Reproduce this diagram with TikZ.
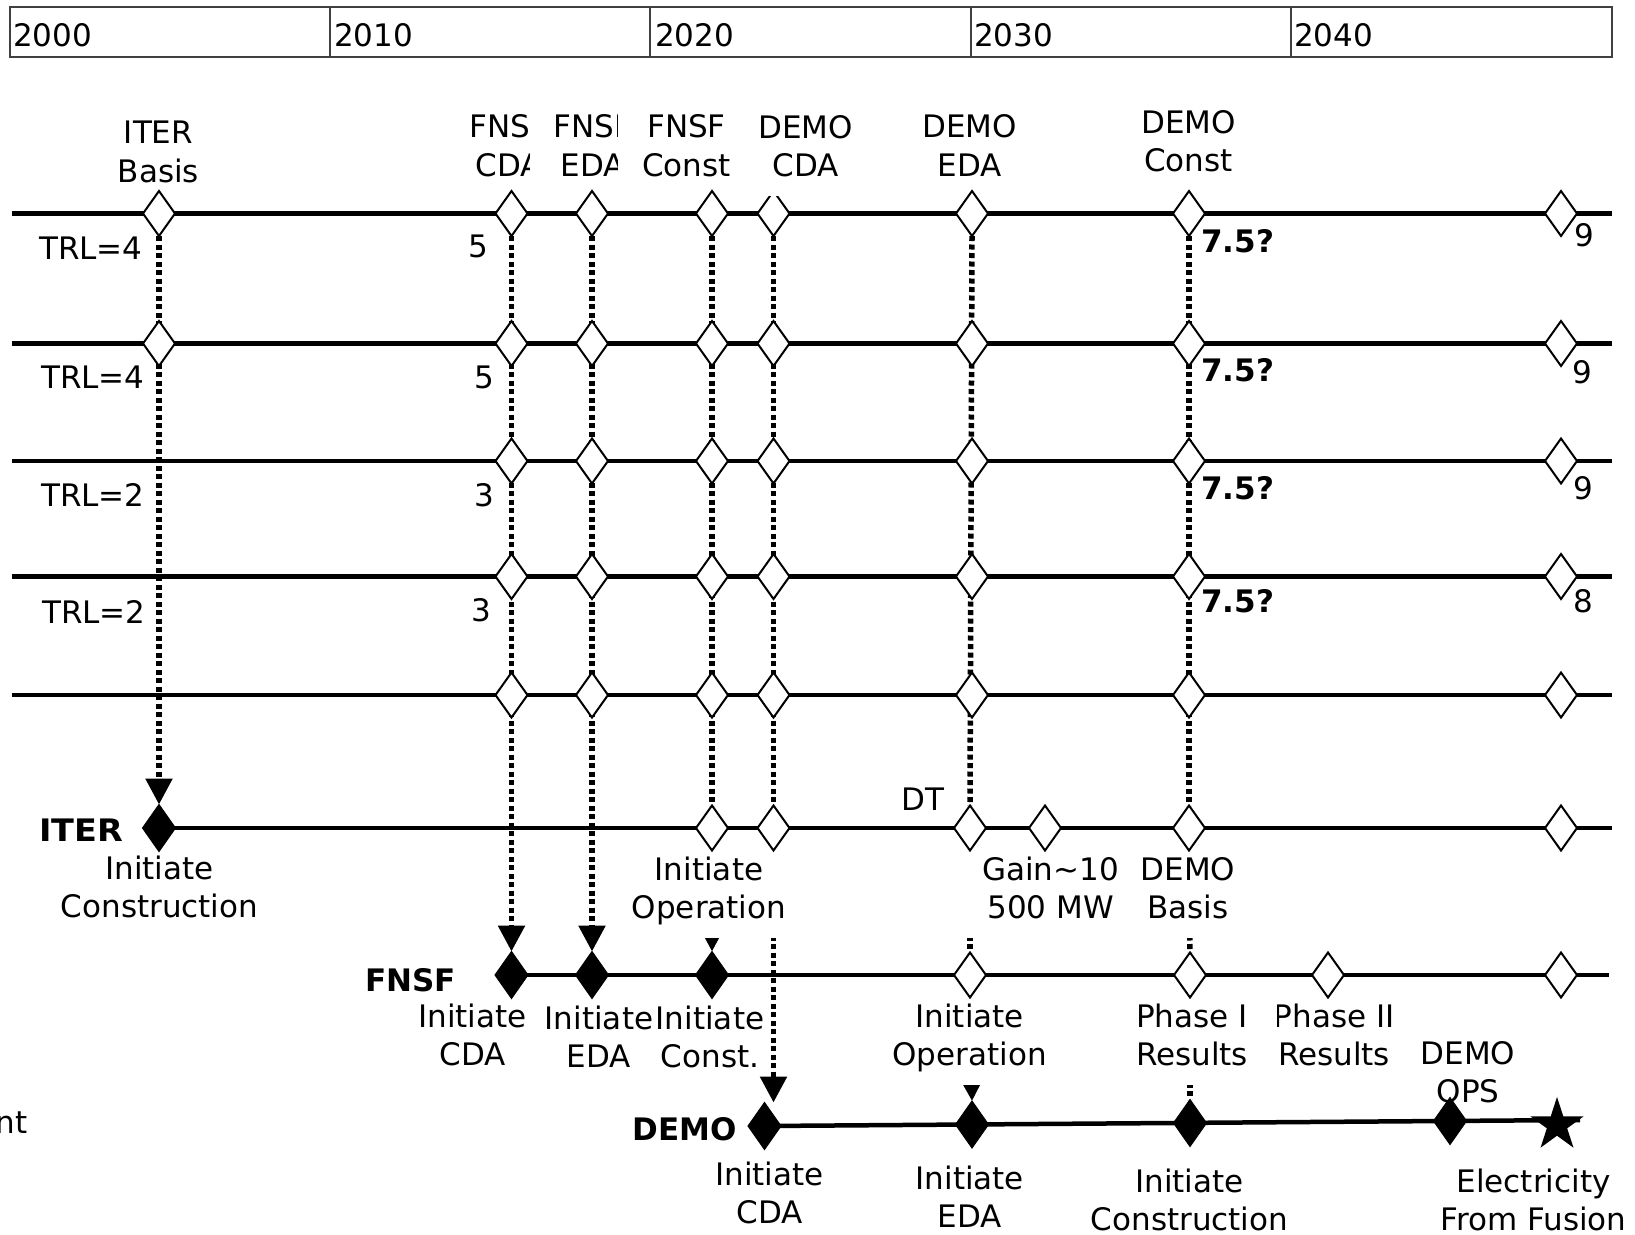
\documentclass[tikz,border=0pt]{standalone}
\usepackage{fontspec}
\setmainfont{DejaVu Sans}
\usetikzlibrary{shapes.geometric,arrows.meta}
\pgfdeclarelayer{bg}
\pgfsetlayers{bg,main}
\newcommand\myfs{\fontsize{31pt}{38.5pt}\selectfont}
\newcommand\ls{\strut}
\begin{document}
\begin{tikzpicture}[x=1pt,y=-1pt,
  every node/.style={font=\myfs},
  odia/.style={diamond,draw=black,line width=2pt,fill=white,minimum width=32pt,minimum height=45pt,inner sep=0pt,outer sep=0pt},
  fdia/.style={diamond,draw=black,line width=1pt,fill=black,minimum width=33pt,minimum height=47pt,inner sep=0pt,outer sep=0pt},
  hline/.style={line width=4.5pt,black},
  dotl/.style={line width=5.5pt,dash pattern=on 5pt off 3.5pt},
  arrw/.style={-{Triangle[width=26pt,length=26pt]}},
  lab/.style={align=center,anchor=north,inner xsep=24pt,inner ysep=7.5pt},
  labw/.style={lab,fill=white},
  txt/.style={anchor=base,inner sep=0pt},
  btxt/.style={txt,font=\myfs\bfseries},
  boxl/.style={line width=2pt,draw=black!75}
]
\useasboundingbox (0,0) rectangle (1635,1234);
% year bar
\draw[boxl] (9.5,6.5) rectangle (1612,56.5);
\foreach \x in {329.5,650,970.5,1291}{\draw[boxl] (\x,6.5) -- (\x,56.5);}
\node[txt,anchor=base west] (y2000) at (13,46.5) {2000};
\node[txt,anchor=base west] (y2010) at (334,46.5) {2010};
\node[txt,anchor=base west] (y2020) at (655,46.5) {2020};
\node[txt,anchor=base west] (y2030) at (974,46.5) {2030};
\node[txt,anchor=base west] (y2040) at (1294,46.5) {2040};

% top labels (unfilled)
\node[lab] (tITER) at (158.5,109.2) {ITER\ls\\Basis\ls};
\node[lab] (tDEDA) at (969.7,103) {DEMO\ls\\EDA\ls};
\node[lab] (tDCon) at (1188.5,98.8) {DEMO\ls\\Const\ls};

% ITER lower labels
\node[lab] (iCon) at (159.5,844.5) {Initiate\ls\\Construction\ls};
\node[labw] (iOp) at (709,845.5) {Initiate\ls\\Operation\ls};
\node[labw,inner xsep=16pt] (iGain) at (1050.5,845.5) {Gain\textasciitilde10\ls\\500 MW\ls};
\node[labw,inner xsep=16pt] (iBas) at (1188,845.5) {DEMO\ls\\Basis\ls};

% FNSF lower labels
\node[lab] (fCDA) at (472.6,992.5) {Initiate\ls\\CDA\ls};
\node[lab] (fEDA) at (599,994.5) {Initiate\ls\\EDA\ls};
\node[lab] (fCon) at (710,994.5) {Initiate\ls\\Const.\ls};
\node[labw] (fOp) at (969.7,992.5) {Initiate\ls\\Operation\ls};
\node[lab] (fPh2) at (1334,992.5) {Phase II\ls\\Results\ls};
\node[labw,inner xsep=29pt] (fPh1) at (1192,992.5) {Phase I\ls\\Results\ls};
\node[lab] (dOPS) at (1468,1029.5) {DEMO\ls\\OPS\ls};

% DEMO lower labels
\node[lab] (dCDA) at (769.6,1150.5) {Initiate\ls\\CDA\ls};
\node[lab] (dEDA) at (969.8,1154.5) {Initiate\ls\\EDA\ls};
\node[lab] (dCon) at (1189.5,1157.5) {Initiate\ls\\Construction\ls};
\node[lab] (dEl) at (1533.5,1157.5) {Electricity\ls\\From Fusion\ls};

% FNSF top labels (overlapping boxes)
\node[labw] (tFCDA) at (508.5,103) {FNSF\ls\\CDA\ls};
\node[labw] (tFEDA) at (593,103) {FNSF\ls\\EDA\ls};
\node[labw] (tFCon) at (686.5,103) {FNSF\ls\\Const\ls};

% diamonds on TRL rows
\node[odia] (R1a) at (159,213.5) {};
\node[odia] (R2a) at (159,343.5) {};
\foreach \r/\y in {1/213.5,2/343.5,3/461,4/576.5,5/695}{
  \foreach \c/\x in {b/511.5,c/592,d/712,e/773.5,f/972,g/1189,h/1561}{
    \node[odia] (R\r\c) at (\x,\y) {};
  }
}
% ITER line
\node[fdia] (Ia) at (159,828) {};
\node[odia] (Id) at (712,828) {};
\node[odia] (Ie) at (773.5,828) {};
\node[odia] (If) at (970,828) {};
\node[odia] (Igain) at (1045,828) {};
\node[odia] (Ig) at (1189,828) {};
\node[odia] (Ih) at (1561,828) {};
% FNSF line
\node[fdia] (Fb) at (511.5,975) {};
\node[fdia] (Fc) at (592,975) {};
\node[fdia] (Fd) at (712,975) {};
\node[odia] (Ff) at (970,975) {};
\node[odia] (Fg) at (1190,975) {};
\node[odia] (Fp) at (1328,975) {};
\node[odia] (Fh) at (1561,975) {};
% DEMO line (slightly rising to the right)
\node[fdia] (De) at (764.5,1126) {};
\node[fdia] (Df) at (972,1124.5) {};
\node[fdia] (Dg) at (1190,1123) {};
\node[fdia] (Do) at (1450,1121) {};
\node[star,star points=5,star point ratio=2.618,minimum size=56pt,inner sep=0pt,fill=black] (Ds) at (1557,1125) {};

% DEMO CDA top label (covers diamond top)
\node[labw] (tDCDA) at (805.5,103.8) {DEMO\ls\\CDA\ls};

% row texts
\node[txt,anchor=base west] (trl1) at (39,259.4) {TRL=4};
\node[txt,anchor=base west] (trl2) at (41,388) {TRL=4};
\node[txt,anchor=base west] (trl3) at (41,506) {TRL=2};
\node[txt,anchor=base west] (trl4) at (42,623) {TRL=2};
\node[txt] (n1) at (478.5,257.7) {5};
\node[txt] (n2) at (484,388) {5};
\node[txt] (n3) at (484,506) {3};
\node[txt] (n4) at (481,621) {3};
\node[btxt,anchor=base west] (q1) at (1201,252.7) {7.5?};
\node[btxt,anchor=base west] (q2) at (1201,381) {7.5?};
\node[btxt,anchor=base west] (q3) at (1201,499.4) {7.5?};
\node[btxt,anchor=base west] (q4) at (1201,612.7) {7.5?};
\node[txt] (e1) at (1584,246) {9};
\node[txt] (e2) at (1582,383) {9};
\node[txt] (e3) at (1583,499.5) {9};
\node[txt] (e4) at (1583,612.7) {8};
\node[btxt] (bITER) at (81,841) {\scalebox{1.08}[1]{ITER}};
\node[btxt] (bFNSF) at (410.5,991) {FNSF};
\node[btxt] (bDEMO) at (684.5,1140) {DEMO};
\node[txt,anchor=base west] (dt) at (901,810) {DT};
\node[txt,anchor=base east] (nt) at (28,1133) {nt};

% line ends
\coordinate (L1) at (11.5,213.5); \coordinate (E1) at (1612,213.5);
\coordinate (L2) at (11.5,343.5); \coordinate (E2) at (1612,343.5);
\coordinate (L3) at (11.5,461);   \coordinate (E3) at (1612,461);
\coordinate (L4) at (11.5,576.5); \coordinate (E4) at (1612,576.5);
\coordinate (L5) at (11.5,695);   \coordinate (E5) at (1612,695);
\coordinate (EI) at (1612,828);
\coordinate (EF) at (1609,975);
\coordinate (ED) at (1580,1120);

\begin{pgfonlayer}{bg}
\foreach \i in {1,...,5}{\draw[hline] (L\i) -- (E\i);}
\draw[hline] (Ia.center) -- (EI);
\draw[hline] (Fb.center) -- (EF);
\draw[hline] (De.center) -- (ED);
% dotted connectors
\draw[dotl,arrw] (R1a.south) -- (Ia.north);
\draw[dotl,arrw] (R1b.south) -- (Fb.north);
\draw[dotl,arrw] (R1c.south) -- (Fc.north);
\draw[dotl] (R1d.south) -- (Id.north);
\draw[dotl,arrw] (Id.south) -- (Fd.north);
\draw[dotl] (R1e.south) -- (Ie.north);
\draw[dotl,arrw] (Ie.south) -- (Ie.south |- De.north);
\draw[dotl] (R1f.south) -- (If.north);
\draw[dotl] (If.south) -- (Ff.north);
\draw[dotl,arrw] (Ff.south) -- (Df.north);
\draw[dotl] (R1g.south) -- (Ig.north);
\draw[dotl] (Ig.south) -- (Fg.north);
\draw[dotl] (Fg.south) -- (Dg.north);
\end{pgfonlayer}
\end{tikzpicture}
\end{document}
